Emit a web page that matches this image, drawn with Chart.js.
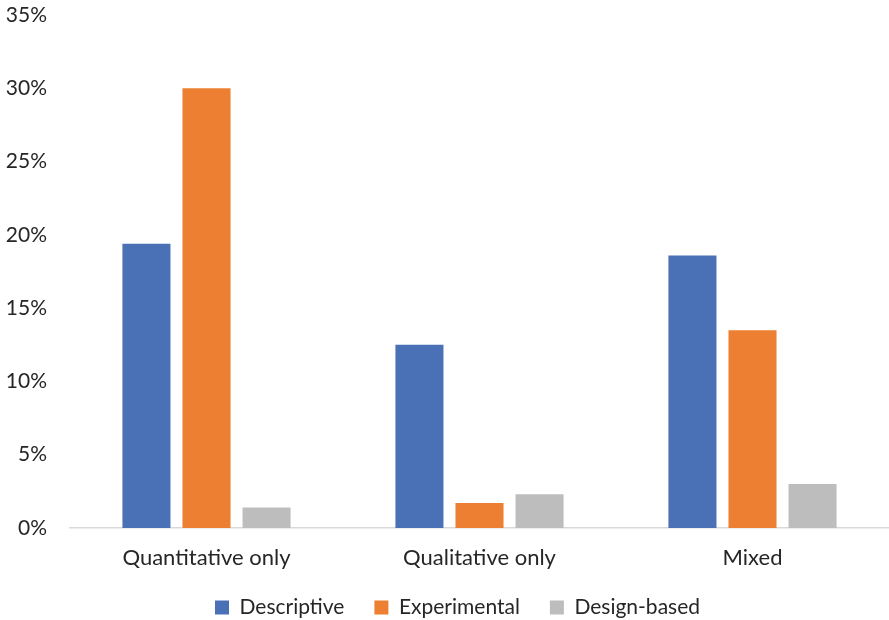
<!DOCTYPE html>
<html>
<head>
<meta charset="utf-8">
<script src="https://cdn.jsdelivr.net/npm/chart.js@4"></script>
<style>
  html, body { margin: 0; padding: 0; background: #fff; }
  #wrap { width: 889px; height: 620px; }
</style>
</head>
<body>
<div id="wrap"><canvas id="studyChart" width="889" height="620"></canvas></div>
<script>
const categories = ['Quantitative only', 'Qualitative only', 'Mixed'];
const descriptive = [19.4, 12.5, 18.6];
const experimental = [30.0, 1.7, 13.5];
const designBased = [1.4, 2.3, 3.0];

const textColor = '#262626';
const fontFamily = 'Lato, "Open Sans", sans-serif';

let studyChart;

// legend keeps wide item spacing but takes less height,
// then gets nudged a bit right/up like the original
const legendPlacePlugin = {
    id: 'legendPlace',
    beforeInit(chart) {
        const origFit = chart.legend.fit;
        chart.legend.fit = function() {
            origFit.bind(chart.legend)();
            this.height = 48;
        };
    },
    afterLayout(chart) {
        const lg = chart.legend;
        lg.left += 13;
        lg.right += 13;
        lg.top -= 5;
        lg.bottom = chart.height;  // don't clip the descenders
    }
};

function initChart() {
    const ctx = document.getElementById('studyChart').getContext('2d');
    studyChart = new Chart(ctx, {
        type: 'bar',
        data: {
            labels: categories,
            datasets: [{
                label: 'Descriptive',
                data: descriptive,
                backgroundColor: '#4A71B6'
            }, {
                label: 'Experimental',
                data: experimental,
                backgroundColor: '#EC7F31'
            }, {
                label: 'Design-based',
                data: designBased,
                backgroundColor: '#BDBDBD'
            }]
        },
        options: {
            responsive: false,
            animation: false,
            layout: { padding: 0 },
            datasets: {
                bar: { barPercentage: 0.8, categoryPercentage: 0.66 }
            },
            plugins: {
                legend: {
                    position: 'bottom',
                    labels: {
                        color: textColor,
                        font: { family: fontFamily, size: 21 },
                        boxWidth: 14,
                        boxHeight: 14,
                        padding: 30
                    }
                },
                tooltip: { enabled: false }
            },
            scales: {
                x: {
                    grid: { display: false, drawTicks: false },
                    border: { color: '#D9D9D9', width: 1.5 },
                    ticks: {
                        color: textColor,
                        font: { family: fontFamily, size: 22 },
                        padding: 17
                    },
                    afterFit: function(scale) {
                        scale.height = 44;
                        scale.paddingLeft = 0;
                        scale.paddingRight = 0;
                    }
                },
                y: {
                    min: 0,
                    max: 35,
                    grid: { display: false, drawTicks: false },
                    border: { display: false },
                    ticks: {
                        stepSize: 5,
                        color: textColor,
                        font: { family: fontFamily, size: 21 },
                        padding: 23,
                        callback: function(value) {
                            return value + '%';
                        }
                    },
                    afterFit: function(scale) {
                        scale.width = 70;
                        scale.paddingTop = 15;
                        scale.paddingBottom = 0;
                    }
                }
            }
        },
        plugins: [legendPlacePlugin]
    });
}

initChart();
</script>
</body>
</html>
